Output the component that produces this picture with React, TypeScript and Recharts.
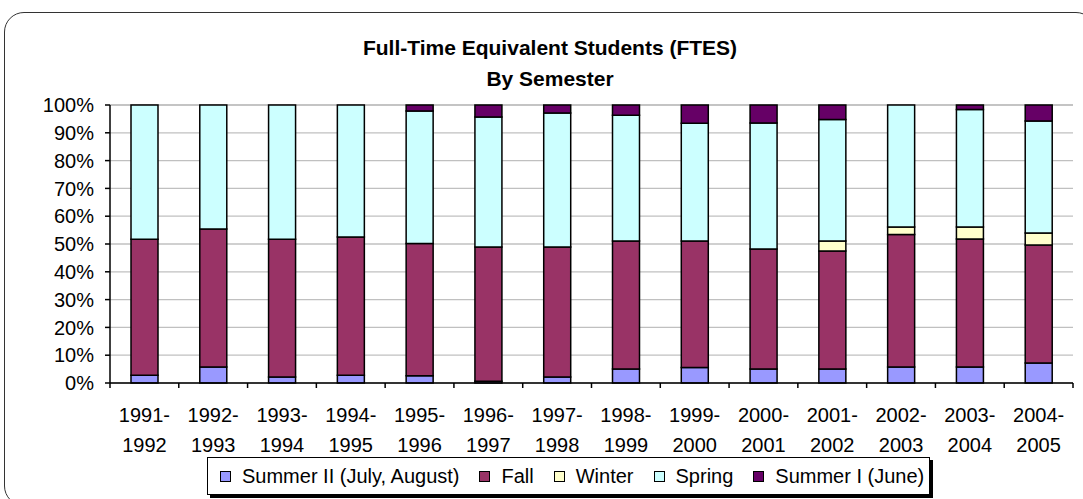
import { BarChart, Bar, XAxis, YAxis, CartesianGrid } from "recharts";

const categories = [
  "1991-1992", "1992-1993", "1993-1994", "1994-1995", "1995-1996", "1996-1997", "1997-1998",
  "1998-1999", "1999-2000", "2000-2001", "2001-2002", "2002-2003", "2003-2004", "2004-2005",
];

// percent of FTES per semester, bottom to top of each stack
const summerII = [2.8, 5.8, 2.2, 2.8, 2.6, 0.6, 2.2, 5.0, 5.6, 5.0, 5.0, 5.8, 5.8, 7.2];
const fall = [48.9, 49.6, 49.5, 49.7, 47.6, 48.3, 46.7, 46.1, 45.5, 43.2, 42.5, 47.6, 46.0, 42.4];
const winter = [0, 0, 0, 0, 0, 0, 0, 0, 0, 0, 3.6, 2.7, 4.3, 4.4];
const spring = [48.3, 44.6, 48.3, 47.5, 47.6, 46.8, 48.2, 45.2, 42.3, 45.3, 43.7, 43.9, 42.3, 40.2];
const summerI = [0, 0, 0, 0, 2.2, 4.3, 2.9, 3.7, 6.6, 6.5, 5.2, 0, 1.6, 5.8];

const yTicks = [0, 10, 20, 30, 40, 50, 60, 70, 80, 90, 100];

const series = [
  { key: "summerII", name: "Summer II (July, August)", color: "#9999FF" },
  { key: "fall", name: "Fall", color: "#993366" },
  { key: "winter", name: "Winter", color: "#FFFFCC" },
  { key: "spring", name: "Spring", color: "#CCFFFF" },
  { key: "summerI", name: "Summer I (June)", color: "#660066" },
];

const data = categories.map((name, i) => ({
  name,
  summerII: summerII[i],
  fall: fall[i],
  winter: winter[i],
  spring: spring[i],
  summerI: summerI[i],
}));

const font = "'Liberation Sans', Arial, sans-serif";

const YearTick = (props: any) => {
  const { x, y, payload, index } = props;
  const [from, to] = String(payload.value).split("-");
  const half = payload.offset || 963 / categories.length / 2;
  return (
    <g>
      <line x1={x - half} x2={x - half} y1={y} y2={y + 5} stroke="#000" strokeWidth={1.5} />
      {index === categories.length - 1 && (
        <line x1={x + half} x2={x + half} y1={y} y2={y + 5} stroke="#000" strokeWidth={1.5} />
      )}
      <text x={x} y={y + 39} textAnchor="middle" fontSize={20} fill="#000" fontFamily={font}>
        {from}-
      </text>
      <text x={x} y={y + 69} textAnchor="middle" fontSize={20} fill="#000" fontFamily={font}>
        {to}
      </text>
    </g>
  );
};

export default function App() {
  return (
    <div
      style={{
        position: "fixed",
        left: 0,
        top: 0,
        width: 1083,
        height: 499,
        overflow: "hidden",
        background: "#fff",
        fontFamily: font,
      }}
    >
      <div
        style={{
          position: "absolute",
          left: 4,
          top: 12,
          width: 1090,
          height: 492,
          border: "1.5px solid #333",
          borderRadius: 20,
        }}
      />
      <div
        style={{
          position: "absolute",
          left: 350,
          width: 400,
          top: 32,
          textAlign: "center",
          fontWeight: "bold",
          fontSize: 21,
          lineHeight: "31px",
          color: "#000",
        }}
      >
        Full-Time Equivalent Students (FTES)
        <br />
        By Semester
      </div>
      <div style={{ position: "absolute", left: 0, top: 0 }}>
        <BarChart
          width={1083}
          height={499}
          data={data}
          margin={{ top: 105, right: 10, bottom: 46, left: 0 }}
          barSize={27}
        >
          <CartesianGrid vertical={false} stroke="#C0C0C0" strokeWidth={1.3} />
          <XAxis
            dataKey="name"
            height={70}
            interval={0}
            tickSize={0}
            tickMargin={0}
            tickLine={false}
            axisLine={{ stroke: "#000", strokeWidth: 1.5 }}
            tick={<YearTick />}
          />
          <YAxis
            width={110}
            domain={[0, 100]}
            ticks={yTicks}
            interval={0}
            tickFormatter={(v: number) => `${v}%`}
            tickSize={5}
            tickMargin={11}
            tickLine={{ stroke: "#000", strokeWidth: 1.5 }}
            axisLine={{ stroke: "#000", strokeWidth: 1.5 }}
            tick={{ fill: "#000", fontSize: 20, fontFamily: font }}
          />
          {series.map((s) => (
            <Bar
              key={s.key}
              dataKey={s.key}
              name={s.name}
              stackId="a"
              fill={s.color}
              stroke="#000"
              strokeWidth={1.5}
              isAnimationActive={false}
            />
          ))}
        </BarChart>
      </div>
      <div
        style={{
          position: "absolute",
          left: 207,
          top: 457,
          width: 723,
          height: 38,
          boxSizing: "border-box",
          border: "1.5px solid #000",
          boxShadow: "3px 3px 0 #000",
          background: "#fff",
          display: "flex",
          alignItems: "center",
          paddingLeft: 12,
          fontSize: 20,
          color: "#000",
          whiteSpace: "nowrap",
        }}
      >
        {series.map((s) => (
          <div key={s.key} style={{ display: "flex", alignItems: "center", marginRight: 20 }}>
            <span
              style={{
                display: "inline-block",
                width: 9,
                height: 9,
                border: "1.5px solid #000",
                background: s.color,
                marginRight: 11,
              }}
            />
            <span>{s.name}</span>
          </div>
        ))}
      </div>
    </div>
  );
}
